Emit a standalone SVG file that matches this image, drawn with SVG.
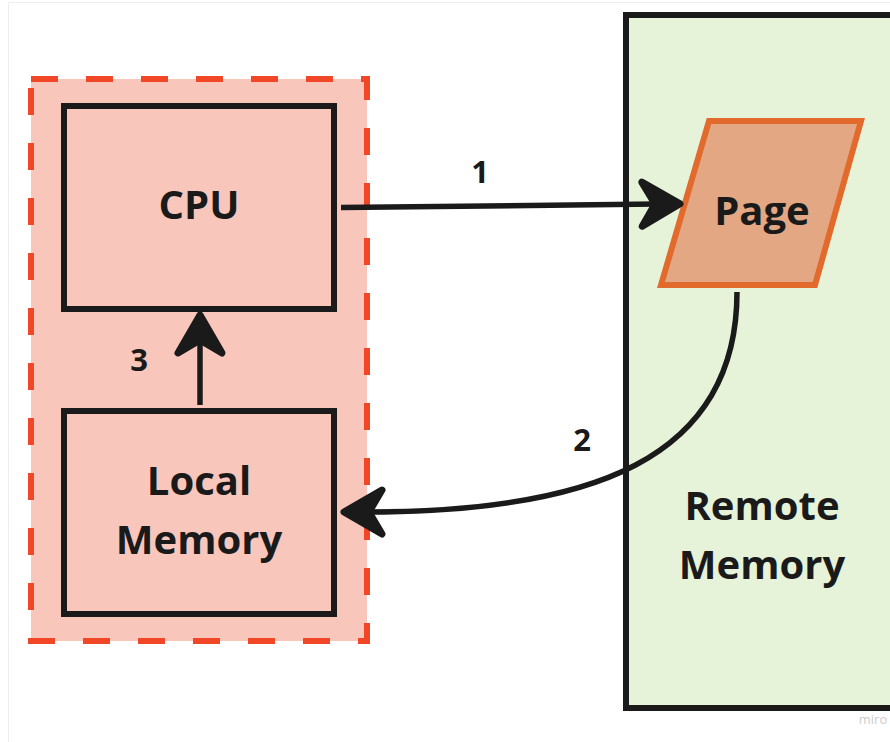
<svg xmlns="http://www.w3.org/2000/svg" width="890" height="742" viewBox="0 0 890 742">
<style>
.lbl{font-family:"Open Sans","Liberation Sans",sans-serif;font-weight:700;font-size:40px;fill:#1a1a1a;text-anchor:middle}
.num{font-family:"Open Sans","Liberation Sans",sans-serif;font-weight:700;font-size:31px;fill:#1a1a1a;text-anchor:middle}
.box{fill:#F9C6BC;stroke:#1a1a1a;stroke-width:6}
.conn{fill:none;stroke:#1a1a1a;stroke-width:5.5}
</style>
<defs>
<marker id="ah" markerUnits="userSpaceOnUse" viewBox="-50 -30 60 60" refX="-25" refY="0" markerWidth="60" markerHeight="60" orient="auto">
<path d="M-2,0 L-40,-22 L-27,0 L-40,22 Z" fill="#1a1a1a" stroke="#1a1a1a" stroke-width="7" stroke-linejoin="round"/>
</marker>
</defs>
<rect width="890" height="742" fill="#ffffff"/>
<path d="M8.5,742 V2.5 H890" fill="none" stroke="#eeeeee" stroke-width="1"/>
<g id="local-group">
<rect x="31" y="79" width="336" height="562" fill="#F9C6BC" stroke="#F24726" stroke-width="6" stroke-dasharray="27 28"/>
</g>
<g id="remote-memory">
<rect x="626" y="15" width="300" height="693" fill="#E6F3D9" stroke="#1a1a1a" stroke-width="6"/>
<text class="lbl" x="762" y="520">Remote</text>
<text class="lbl" x="762" y="579">Memory</text>
</g>
<g id="cpu">
<rect class="box" x="64" y="106" width="270" height="203"/>
<text class="lbl" x="199" y="219">CPU</text>
</g>
<g id="local-memory">
<rect class="box" x="64" y="411" width="270" height="203"/>
<text class="lbl" x="199" y="495">Local</text>
<text class="lbl" x="199" y="554">Memory</text>
</g>
<g id="page">
<polygon points="709,121 861,121 815,285 661,285" fill="#E3A783" stroke="#E26A2C" stroke-width="6"/>
<text class="lbl" x="762" y="225">Page</text>
</g>
<g id="connectors">
<path class="conn" d="M341,207.5 L657,204" marker-end="url(#ah)"/>
<path class="conn" d="M200,405 L200,338" marker-end="url(#ah)"/>
<path class="conn" d="M737,292 C737,460 590,512 367,512" marker-end="url(#ah)"/>
<text class="num" x="480" y="183">1</text>
<text class="num" x="582" y="451">2</text>
<text class="num" x="139" y="371">3</text>
</g>
<text x="873" y="724" font-family="Open Sans, Liberation Sans, sans-serif" font-size="13" fill="#cccccc" text-anchor="middle">miro</text>
</svg>
